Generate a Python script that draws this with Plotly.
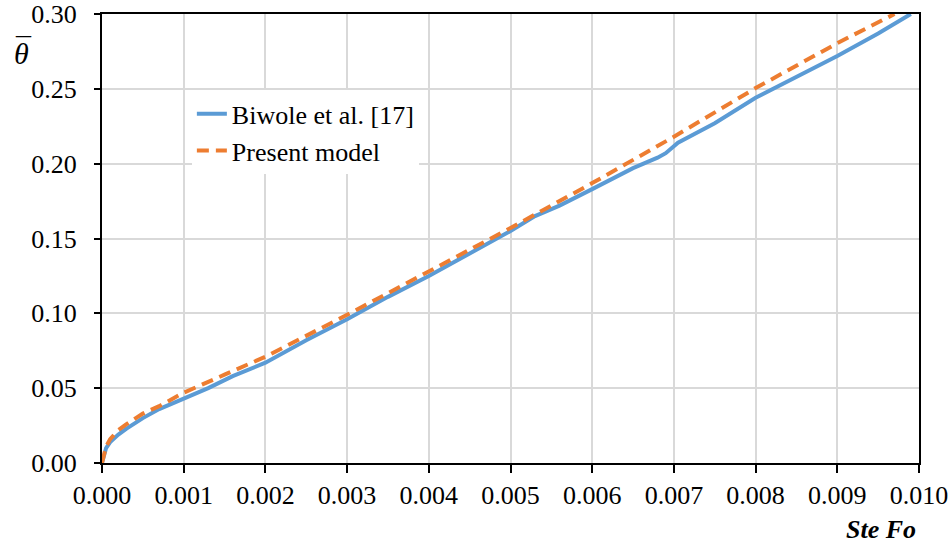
import plotly.graph_objects as go

# Biwole et al. [17]
biwole_x = [0.0, 0.00005, 0.0001, 0.0002, 0.0003, 0.0005, 0.0007, 0.001, 0.0013, 0.0016, 0.002,
            0.0025, 0.003, 0.0035, 0.004, 0.0045, 0.005, 0.0053, 0.0056, 0.006, 0.0063, 0.0065,
            0.0068, 0.0069, 0.00705, 0.0075, 0.008, 0.0085, 0.009, 0.0095, 0.0099]
biwole_y = [0.0, 0.010, 0.014, 0.019, 0.023, 0.030, 0.036, 0.043, 0.050, 0.058, 0.067,
            0.082, 0.096, 0.111, 0.125, 0.140, 0.155, 0.165, 0.172, 0.183, 0.191, 0.197,
            0.204, 0.207, 0.214, 0.227, 0.244, 0.258, 0.272, 0.287, 0.300]

# Present model
model_x = [0.0, 0.00005, 0.0001, 0.0002, 0.0003, 0.0005, 0.0007, 0.001, 0.0015, 0.002, 0.003,
           0.004, 0.005, 0.006, 0.007, 0.008, 0.009, 0.0097]
model_y = [0.0, 0.011, 0.016, 0.022, 0.026, 0.033, 0.038, 0.047, 0.059, 0.071, 0.099,
           0.128, 0.157, 0.187, 0.218, 0.2505, 0.2805, 0.300]

x_ticks = [0.000, 0.001, 0.002, 0.003, 0.004, 0.005, 0.006, 0.007, 0.008, 0.009, 0.010]
y_ticks = [0.00, 0.05, 0.10, 0.15, 0.20, 0.25, 0.30]

font = "Liberation Serif, Times New Roman, serif"

fig = go.Figure()
fig.add_trace(go.Scatter(x=biwole_x, y=biwole_y, mode="lines", name="Biwole et al. [17]",
                         line=dict(color="#5B9BD5", width=4)))
fig.add_trace(go.Scatter(x=model_x, y=model_y, mode="lines", name="Present model",
                         line=dict(color="#ED7D31", width=4, dash="12px,7px")))

fig.update_layout(
    width=950, height=548,
    margin=dict(l=102, r=31, t=14, b=85),
    plot_bgcolor="white", paper_bgcolor="white",
    font=dict(family=font, size=26, color="black"),
    legend=dict(x=0.11, y=0.83, xanchor="left", yanchor="top", bgcolor="white",
                font=dict(family=font, size=26), tracegroupgap=0),
    showlegend=True,
)
fig.update_xaxes(range=[0, 0.010], tickvals=x_ticks, ticktext=[f"{v:.3f}" for v in x_ticks],
                 showline=True, linecolor="black", linewidth=2, mirror=True,
                 ticks="outside", ticklen=8, tickwidth=2, tickcolor="black",
                 showgrid=True, gridcolor="#d9d9d9", gridwidth=1.5, zeroline=False,
                 automargin=False, ticklabeloverflow="allow",
                 tickfont=dict(family=font, size=26))
fig.update_yaxes(range=[0, 0.30], tickvals=y_ticks, ticktext=[f"{v:.2f}" for v in y_ticks],
                 showline=True, linecolor="black", linewidth=2, mirror=True,
                 ticks="outside", ticklen=6, tickwidth=2, tickcolor="black",
                 showgrid=True, gridcolor="#d9d9d9", gridwidth=1.5, zeroline=False,
                 ticklabelstandoff=12, automargin=False, ticklabeloverflow="allow",
                 tickfont=dict(family=font, size=26))

fig.add_annotation(text="<i>θ</i>", xref="paper", yref="paper", x=-0.098, y=0.912,
                   xanchor="center", yanchor="middle", showarrow=False,
                   font=dict(family=font, size=30, color="black"))
fig.add_annotation(text="¯", xref="paper", yref="paper", x=-0.096, y=0.925,
                   xanchor="center", yanchor="middle", showarrow=False,
                   font=dict(family=font, size=30, color="black"))
fig.add_annotation(text="<b><i>Ste Fo</i></b>", xref="paper", yref="paper", x=0.999, y=-0.149,
                   xanchor="right", yanchor="middle", showarrow=False,
                   font=dict(family=font, size=26, color="black"))

fig.write_html("out.html", config={"displayModeBar": False},
               post_script="document.body.style.margin='0';document.body.style.overflow='hidden';")
